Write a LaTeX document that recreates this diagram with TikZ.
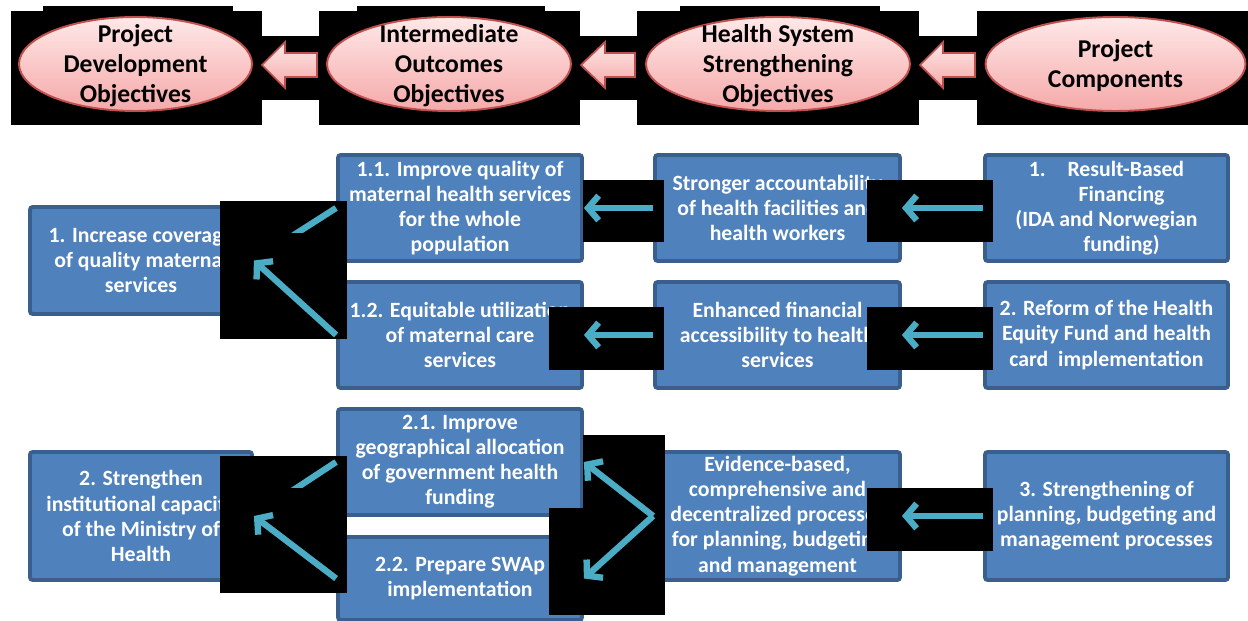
\documentclass[tikz,border=0pt]{standalone}
\usepackage{fontspec}
\setmainfont{Carlito}
\usetikzlibrary{positioning,shapes.geometric,arrows.meta}
\definecolor{boxblue}{HTML}{4F81BD}
\definecolor{boxedge}{HTML}{3A5F8C}
\definecolor{flowteal}{HTML}{4BACC6}
\definecolor{ovaledge}{HTML}{C0504D}
\definecolor{ovaltop}{HTML}{FFE8E8}
\definecolor{ovalbot}{HTML}{F5A9A9}
\tikzset{
  resbox/.style={draw=boxedge, fill=boxblue, line width=2.2pt, rounded corners=1.5pt,
    text=white, align=center, inner sep=2pt, font=\fontsize{12.4}{14.3}\selectfont\bfseries},
  oval/.style={ellipse, draw=ovaledge, line width=1.1pt, top color=ovaltop,
    bottom color=ovalbot, inner sep=0pt},
  ovaltext/.style={align=center, font=\fontsize{14.6}{17}\selectfont\bfseries},
  pinkarrow/.style={draw=ovaledge, line width=1pt, top color=ovaltop, bottom color=ovalbot},
  flow/.style={draw=flowteal, line width=3.6pt, -{Straight Barb[length=6pt,width=14pt]}},
  mask/.style={fill=black}
}

\begin{document}
\begin{tikzpicture}[x=0.02cm, y=-0.02cm]
\useasboundingbox (0,0) rectangle (1248,621);

% header row: black backgrounds
\foreach \a/\b/\c/\d in {11/11/262/125, 43/6/233/11, 319/11/580/125, 357/6/545/11,
    637/11/919/125, 680/6/880/11, 977/11/1248/125,
    255/36/326/100, 580/36/637/100, 919/36/977/100}
  \fill[mask] (\a,\b) rectangle (\c,\d);

% header ovals
\node[oval, minimum width=4.66cm, minimum height=1.88cm] (pdo) at (135.5,64) {};
\node[oval, minimum width=4.88cm, minimum height=1.88cm] (ioo) at (449,64) {};
\node[oval, minimum width=5.28cm, minimum height=1.88cm] (hso) at (778,64) {};
\node[oval, minimum width=5.2cm, minimum height=1.88cm] (pco) at (1115.5,64) {};
\node[ovaltext] at ([yshift=-1pt]pdo) {Project\\Development\\Objectives};
\node[ovaltext] at ([yshift=-1pt]ioo) {Intermediate\\Outcomes\\Objectives};
\node[ovaltext] at ([yshift=-1pt]hso) {Health System\\Strengthening\\Objectives};
\node[ovaltext] at ([yshift=-1pt]pco) {Project\\Components};

% block arrows between the ovals
\foreach \tip/\base/\tail in {262/285/317, 581/605/635, 920/943/975}
  \draw[pinkarrow] (\tip,65) -- (\base,42) -- (\base,53) -- (\tail,53)
    -- (\tail,77) -- (\base,77) -- (\base,88) -- cycle;

% development objectives
\node[resbox, minimum width=4.44cm, minimum height=2.14cm] (g1) at (141,260.5)
  {1. Increase coverage\\of quality maternal\\services};
\node[resbox, minimum width=4.44cm, minimum height=2.56cm] (g2) at (141,516)
  {2. Strengthen\\institutional capacity\\of the Ministry of\\Health};

% intermediate outcomes
\node[resbox, minimum width=4.88cm, minimum height=2.12cm] (o11) at (460,208)
  {1.1. Improve quality of\\maternal health services\\for the whole\\population};
\node[resbox, minimum width=4.88cm, minimum height=2.12cm] (o12) at (460,335)
  {1.2. Equitable utilization\\of maternal care\\services};
\node[resbox, minimum width=4.88cm, minimum height=2.12cm] (o21) at (460,462)
  {2.1. Improve\\geographical allocation\\of government health\\funding};
\node[resbox, minimum width=4.88cm, minimum height=1.66cm] (o22) at (460,578.5)
  {2.2. Prepare SWAp\\implementation};

% health system strengthening
\node[resbox, minimum width=4.9cm, minimum height=2.12cm] (h1) at (777.5,208)
  {Stronger accountability\\of health facilities and\\health workers};
\node[resbox, minimum width=4.9cm, minimum height=2.12cm] (h2) at (777.5,335)
  {Enhanced financial\\accessibility to health\\services};
\node[resbox, minimum width=4.9cm, minimum height=2.56cm] (h3) at (777.5,516)
  {Evidence-based,\\comprehensive and\\decentralized processes\\for planning, budgeting\\and management};

% components
\node[resbox, minimum width=4.86cm, minimum height=2.12cm] (c1) at (1106.5,208)
  {1.\quad Result-Based\\\hspace*{0.6cm}Financing\\(IDA and Norwegian\\\hspace*{0.6cm}funding)};
\node[resbox, minimum width=4.86cm, minimum height=2.12cm] (c2) at (1106.5,335)
  {2. Reform of the Health\\Equity Fund and health\\card\ \ implementation};
\node[resbox, minimum width=4.86cm, minimum height=2.56cm] (c3) at (1106.5,516)
  {3. Strengthening of\\planning, budgeting and\\management processes};

% black backgrounds behind the links
\foreach \a/\b/\c/\d in {220/201/347/339, 220/456/347/593,
    583/180/664/242, 549/307/664/370,
    867/180/993/242, 867/307/993/370, 867/488/993/551,
    583/435/665/508, 549/508/665/615}
  \fill[mask] (\a,\b) rectangle (\c,\d);

% links
\draw[flow] (c1.west) -- (h1.east);
\draw[flow] (c2.west) -- (h2.east);
\draw[flow] (c3.west) -- (h3.east);
\draw[flow] (h1.west) -- (o11.east);
\draw[flow] (h2.west) -- (o12.east);
\draw[flow] (h3.west) -- (o21.east);
\draw[flow] (h3.west) -- (o22.east);
\draw[flow] (o12.west) -- (g1.east);
\draw[flow] (o22.west) -- (g2.east);
\begin{scope}
  \clip (200,150) rectangle (400,233);
  \draw[flow] (o11.west) -- (g1.east);
\end{scope}
\begin{scope}
  \clip (200,400) rectangle (400,488);
  \draw[flow] (o21.west) -- (g2.east);
\end{scope}
\end{tikzpicture}
\end{document}
